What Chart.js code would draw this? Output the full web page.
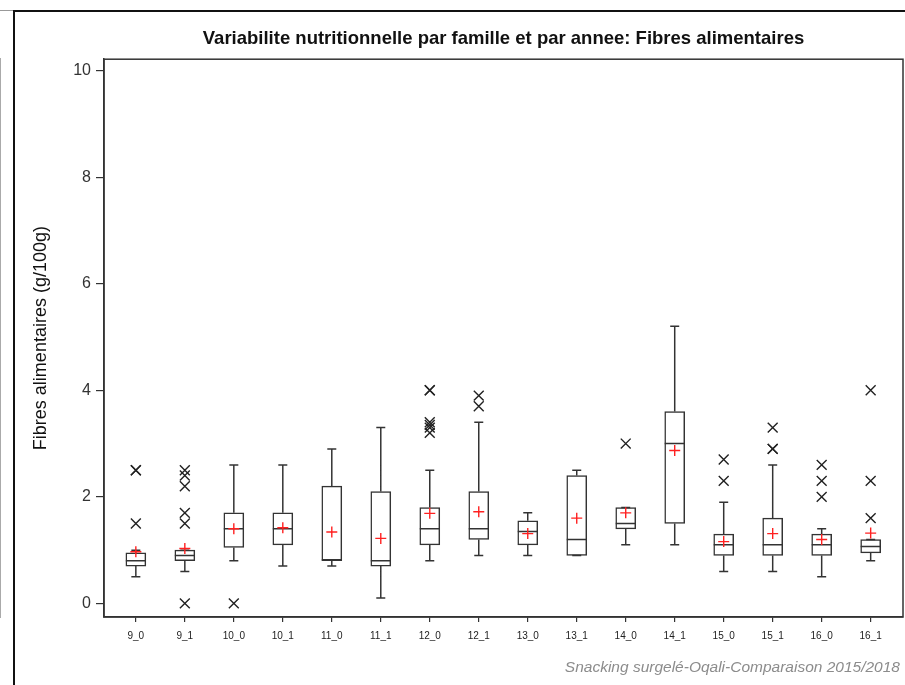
<!DOCTYPE html>
<html>
<head>
<meta charset="utf-8">
<script src="https://cdn.jsdelivr.net/npm/chart.js@4/dist/chart.umd.min.js"></script>
<style>
  html, body { margin: 0; padding: 0; background: #fff; }
  body { width: 905px; height: 685px; position: relative; overflow: hidden; }
  #wrap { position: absolute; left: 15px; top: 11px; width: 890px; height: 674px; }
  .rule { position: absolute; }
  #footer {
    position: absolute; right: 5px; top: 658px;
    font: italic 15.5px "Liberation Sans", Arial, sans-serif; color: #8c8c8c;
    white-space: nowrap;
  }
</style>
</head>
<body>
<div class="rule" style="left:0;top:10px;width:14px;height:1px;background:#999"></div>
<div class="rule" style="left:14px;top:10px;width:891px;height:1.5px;background:#111"></div>
<div class="rule" style="left:13px;top:10px;width:1.5px;height:675px;background:#111"></div>
<div class="rule" style="left:0;top:58px;width:1px;height:560px;background:#aaa"></div>
<div id="wrap"><canvas id="chart"></canvas></div>
<div id="footer">Snacking surgelé-Oqali-Comparaison 2015/2018</div>
<script>
// Family_year groups
const categories = ['9_0','9_1','10_0','10_1','11_0','11_1','12_0','12_1','13_0','13_1','14_0','14_1','15_0','15_1','16_0','16_1'];
// Box-plot statistics per group (g/100g)
const whiskerLow  = [0.5, 0.6, 0.8, 0.7, 0.7, 0.1, 0.8, 0.9, 0.9, 0.9, 1.1, 1.1, 0.6, 0.6, 0.5, 0.8];
const q1          = [0.7, 0.8, 1.05, 1.1, 0.8, 0.7, 1.1, 1.2, 1.1, 0.9, 1.4, 1.5, 0.9, 0.9, 0.9, 0.95];
const medians     = [0.8, 0.9, 1.4, 1.4, 0.82, 0.8, 1.4, 1.4, 1.35, 1.2, 1.5, 3.0, 1.1, 1.1, 1.1, 1.07];
const q3          = [0.95, 1.0, 1.7, 1.7, 2.2, 2.1, 1.8, 2.1, 1.55, 2.4, 1.8, 3.6, 1.3, 1.6, 1.3, 1.2];
const whiskerHigh = [1.0, 1.0, 2.6, 2.6, 2.9, 3.3, 2.5, 3.4, 1.7, 2.5, 1.8, 5.2, 1.9, 2.6, 1.4, 1.2];
const means       = [0.97, 1.03, 1.4, 1.42, 1.34, 1.22, 1.69, 1.72, 1.31, 1.6, 1.7, 2.87, 1.16, 1.31, 1.2, 1.32];
const outliers = [
  [1.5, 2.5, 2.5],
  [0, 1.5, 1.7, 2.2, 2.4, 2.5],
  [0],
  [],
  [],
  [],
  [3.2, 3.3, 3.35, 3.4, 4.0, 4.0],
  [3.7, 3.9],
  [],
  [],
  [3.0],
  [],
  [2.3, 2.7],
  [2.9, 2.9, 3.3],
  [2.0, 2.3, 2.6],
  [1.6, 2.3, 4.0]
];
const yTicks = [0, 2, 4, 6, 8, 10];

const INK = '#333333';

const boxData = categories.map((c, i) => ({ x: i, y: [q1[i], q3[i]] }));
const whiskerData = [];
categories.forEach((c, i) => {
  whiskerData.push({ x: i, y: whiskerLow[i] }, { x: i, y: q1[i] }, { x: i, y: null });
  whiskerData.push({ x: i, y: q3[i] }, { x: i, y: whiskerHigh[i] }, { x: i, y: null });
});
const medianData = categories.map((c, i) => ({ x: i, y: medians[i] }));
const capData = [];
categories.forEach((c, i) => {
  capData.push({ x: i, y: whiskerLow[i] }, { x: i, y: whiskerHigh[i] });
});
const outlierData = [];
outliers.forEach((list, i) => list.forEach(v => outlierData.push({ x: i, y: v })));
const meanData = categories.map((c, i) => ({ x: i, y: means[i] }));

// Closed frame around the plotting area
const plotFrame = {
  id: 'plotFrame',
  afterDraw(chart) {
    const { ctx, chartArea: a } = chart;
    ctx.save();
    ctx.strokeStyle = INK;
    ctx.lineWidth = 1.5;
    ctx.strokeRect(a.left, a.top, a.right - a.left, a.bottom - a.top);
    ctx.restore();
  }
};

new Chart(document.getElementById('chart'), {
  type: 'bar',
  data: {
    datasets: [
      { type: 'line', data: whiskerData, borderColor: INK, borderWidth: 1.5, pointRadius: 0, spanGaps: false, order: 5 },
      { type: 'bar', data: boxData, backgroundColor: '#ffffff', borderColor: INK, borderWidth: 1.5, borderSkipped: false, barThickness: 20, order: 4 },
      { type: 'scatter', data: medianData, pointStyle: 'line', pointRadius: 10, borderColor: INK, borderWidth: 1.5, order: 3 },
      { type: 'scatter', data: capData, pointStyle: 'line', pointRadius: 4.5, borderColor: INK, borderWidth: 1.5, order: 3 },
      { type: 'scatter', data: outlierData, pointStyle: 'crossRot', pointRadius: 7, borderColor: '#222', borderWidth: 1.4, order: 2 },
      { type: 'scatter', data: meanData, pointStyle: 'cross', pointRadius: 5.5, borderColor: '#ff2020', borderWidth: 1.4, order: 1 }
    ]
  },
  options: {
    responsive: true,
    maintainAspectRatio: false,
    animation: false,
    layout: { autoPadding: false, padding: { left: 0, right: 2, top: 0, bottom: 0 } },
    plugins: {
      legend: { display: false },
      tooltip: { enabled: false },
      title: {
        display: true,
        fullSize: false,
        text: 'Variabilite nutritionnelle par famille et par annee: Fibres alimentaires',
        color: '#111',
        font: { family: '"Liberation Sans", Arial, sans-serif', size: 18.5, weight: 'bold' },
        padding: { top: 17, bottom: 9 }
      }
    },
    scales: {
      x: {
        type: 'linear',
        min: -0.65,
        max: 15.66,
        offset: false,
        grid: { display: true, drawOnChartArea: false, drawTicks: true, tickLength: 5, color: INK, lineWidth: 1.2, offset: false },
        border: { display: true, color: INK, width: 1.5 },
        afterBuildTicks(scale) { scale.ticks = categories.map((c, i) => ({ value: i })); },
        afterFit(scale) { scale.height = 68; scale.paddingLeft = 0; scale.paddingRight = 0; },
        ticks: {
          autoSkip: false,
          maxRotation: 0,
          padding: 8,
          color: '#222',
          font: { family: '"Liberation Sans Narrow", "Liberation Sans", Arial, sans-serif', size: 10 },
          callback: v => categories[v]
        }
      },
      y: {
        type: 'linear',
        min: -0.255,
        max: 10.214,
        grid: { display: true, drawOnChartArea: false, drawTicks: true, tickLength: 8, color: INK, lineWidth: 1.2 },
        border: { display: true, color: INK, width: 1.5 },
        afterBuildTicks(scale) { scale.ticks = yTicks.map(v => ({ value: v })); },
        afterFit(scale) { scale.width = 89; scale.paddingTop = 0; scale.paddingBottom = 0; },
        ticks: {
          padding: 5,
          color: '#333',
          font: { family: '"Liberation Sans", Arial, sans-serif', size: 16 },
          callback: v => String(v)
        },
        title: {
          display: true,
          text: 'Fibres alimentaires (g/100g)',
          color: '#111',
          font: { family: '"Liberation Sans", Arial, sans-serif', size: 18 },
          padding: { top: 15, bottom: 0 }
        }
      }
    }
  },
  plugins: [plotFrame]
});
</script>
</body>
</html>
